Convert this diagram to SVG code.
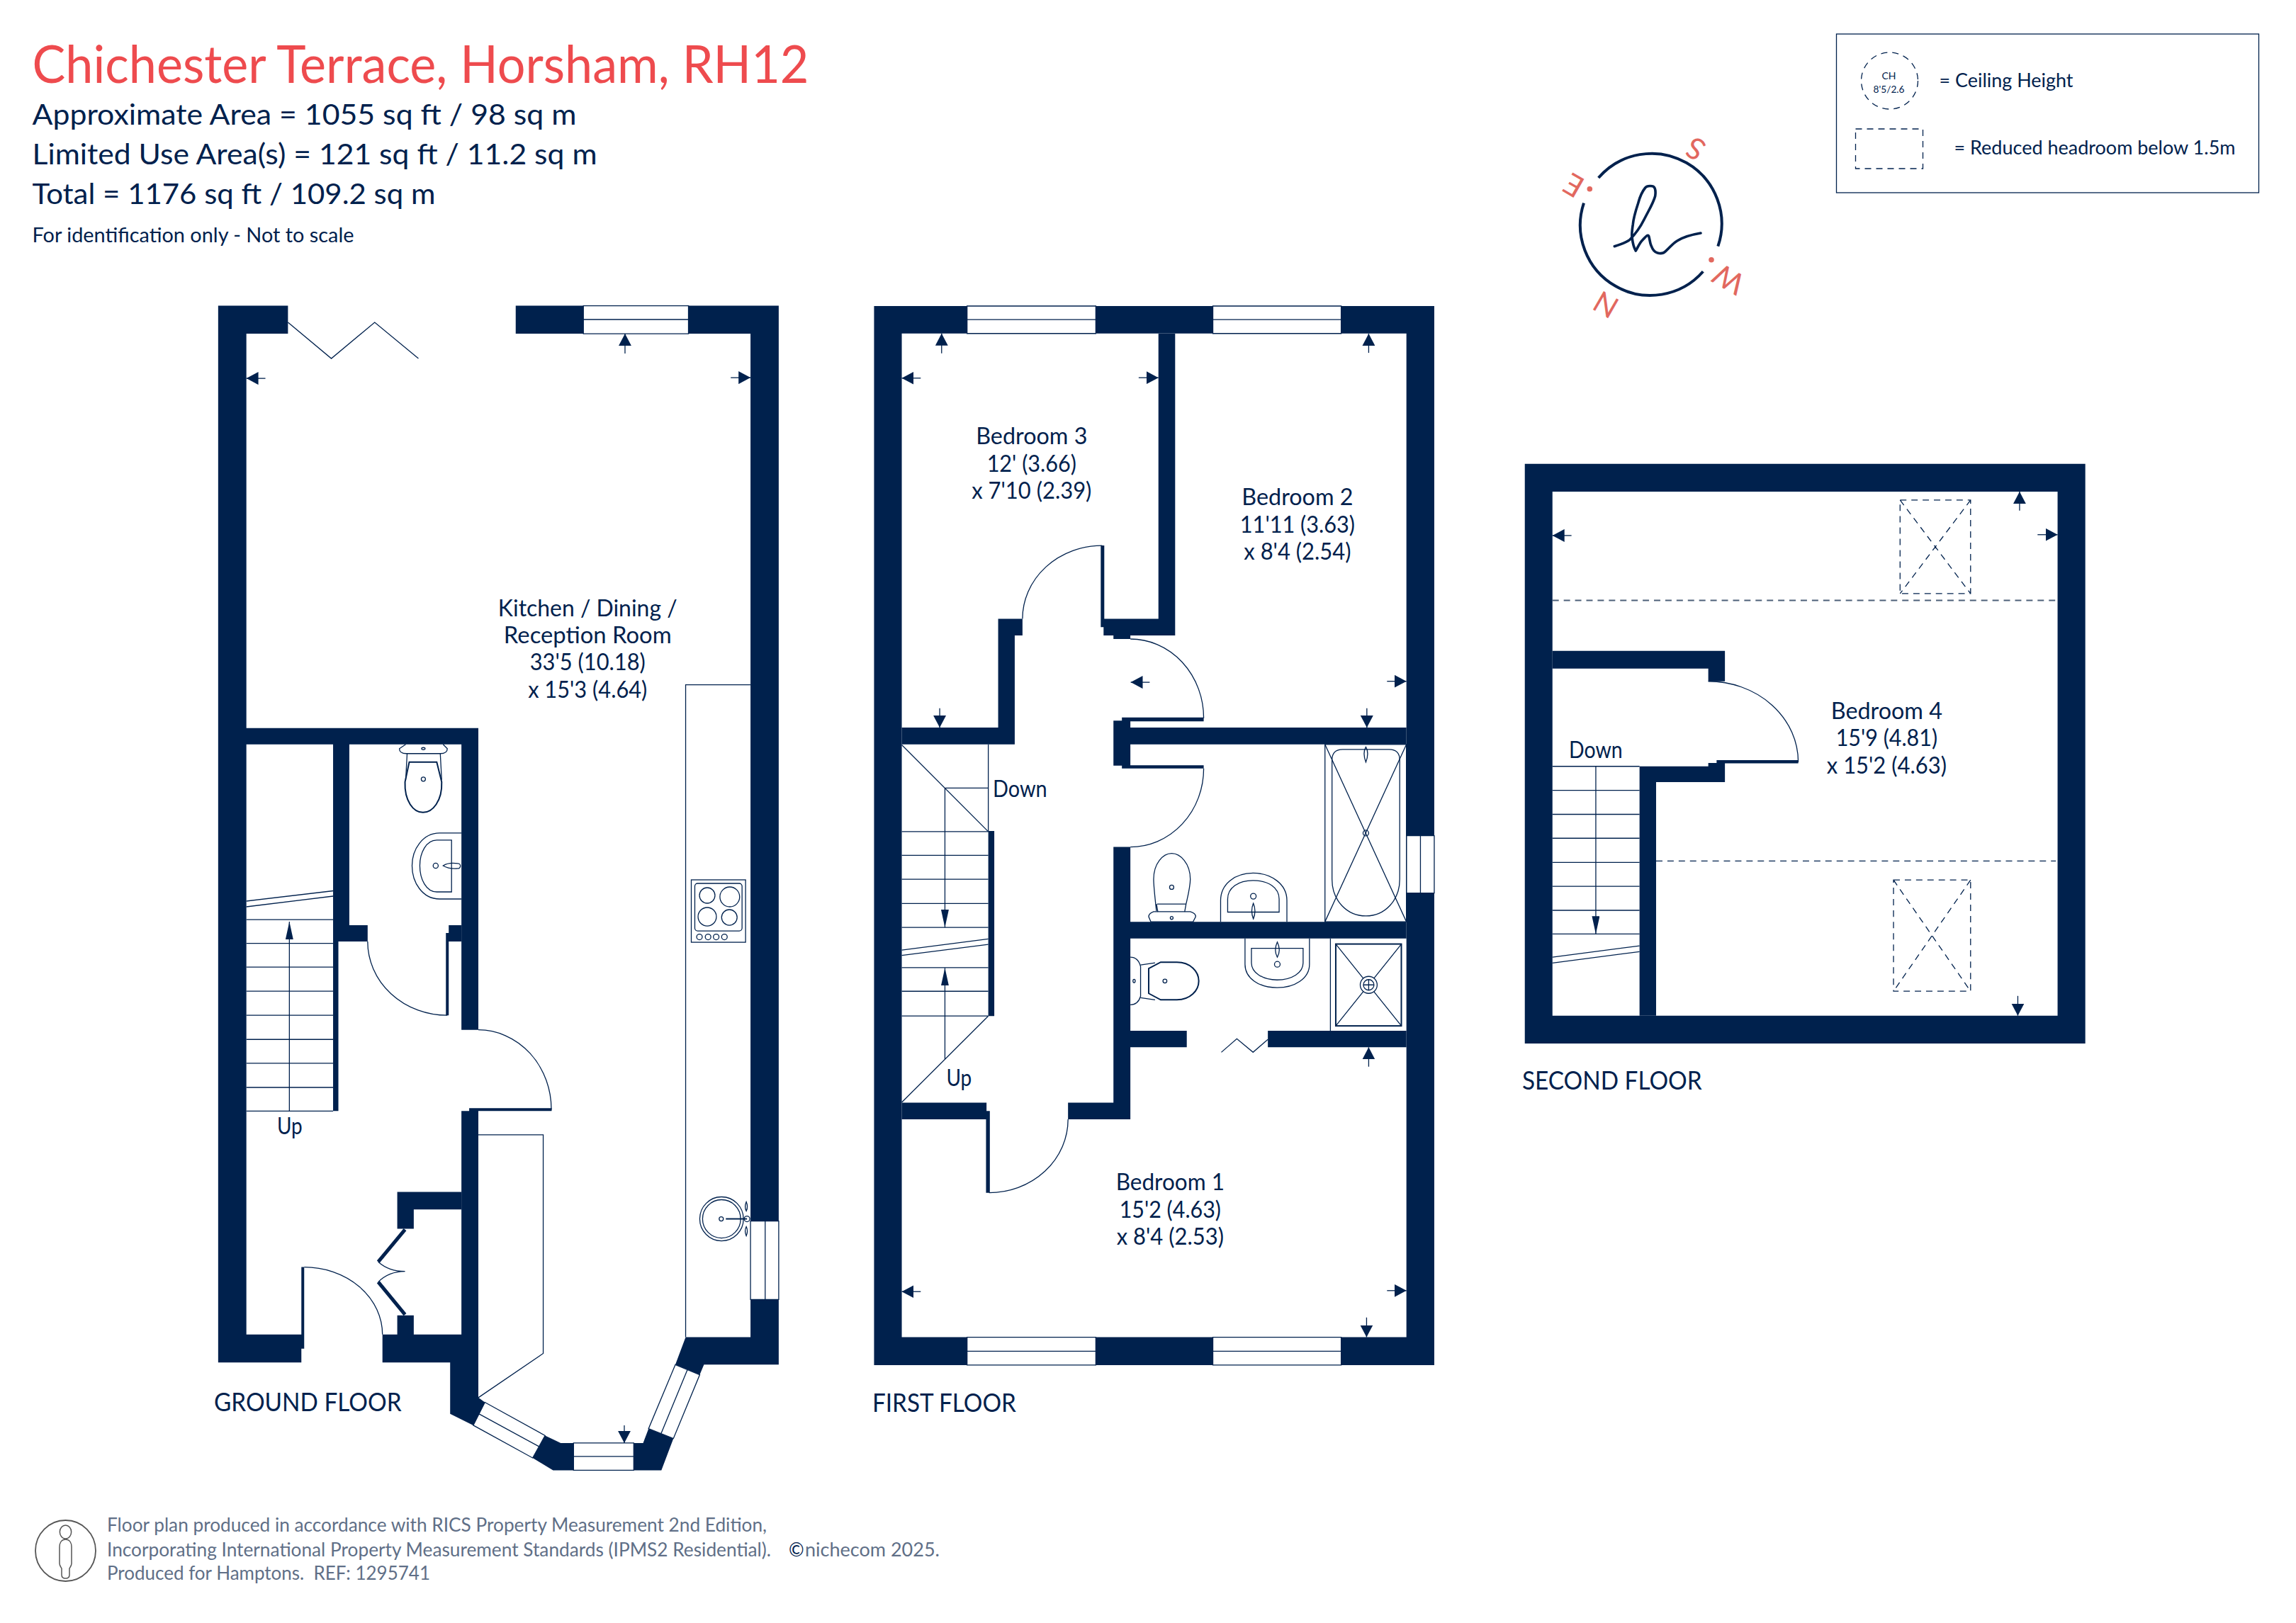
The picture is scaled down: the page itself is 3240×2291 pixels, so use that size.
<svg xmlns="http://www.w3.org/2000/svg" width="3240" height="2291" viewBox="0 0 3240 2291">
<style>
text{font-family:"Lato","Noto Sans","Liberation Sans",sans-serif;fill:#00214d}
.wall{fill:#00214d;stroke:none}
.t{fill:none;stroke:#00214d;stroke-width:1.3}
.tb{fill:none;stroke:#00214d;stroke-width:2}
.win{fill:#fff;stroke:#00214d;stroke-width:1.3}
.dash{fill:none;stroke:#00214d;stroke-width:1.3;stroke-dasharray:9 7}
.dash2{fill:none;stroke:#4d6079;stroke-width:2;stroke-dasharray:9 7}
.dim{stroke:#00214d;stroke-width:1.3;fill:none;marker-end:url(#head)}
.run{stroke:#00214d;stroke-width:1.3;fill:none;marker-end:url(#runhead)}
.room{font-size:33px;text-anchor:middle}
.floor{font-size:36px}
.foot{font-size:26px;fill:#5f6f87}
.cmp{font-size:42px;fill:#e2685f;text-anchor:middle}
</style>
<defs>
<marker id="head" markerUnits="userSpaceOnUse" markerWidth="18" markerHeight="18" refX="17" refY="9" orient="auto"><path d="M0 0L17 9L0 18Z" fill="#00214d"/></marker>
<marker id="runhead" markerUnits="userSpaceOnUse" markerWidth="26" markerHeight="12" refX="25" refY="5.5" orient="auto"><path d="M0 0L25 5.5L0 11Z" fill="#00214d"/></marker>
</defs>
<rect width="3240" height="2291" fill="#fff"/>

<g id="header">
<text x="45.5" y="116.5" font-size="74" style="fill:#ee4b4e" textLength="1096" lengthAdjust="spacingAndGlyphs">Chichester Terrace, Horsham, RH12</text>
<text x="45.5" y="176" font-size="41" textLength="768" lengthAdjust="spacingAndGlyphs">Approximate Area = 1055 sq ft / 98 sq m</text>
<text x="45.5" y="232" font-size="41" textLength="797" lengthAdjust="spacingAndGlyphs">Limited Use Area(s) = 121 sq ft / 11.2 sq m</text>
<text x="45.5" y="287.5" font-size="41" textLength="569" lengthAdjust="spacingAndGlyphs">Total = 1176 sq ft / 109.2 sq m</text>
<text x="45.5" y="342" font-size="29" textLength="454" lengthAdjust="spacingAndGlyphs">For identification only - Not to scale</text>
</g>

<g id="legend" transform="translate(-15.5 0)">
<rect x="2607" y="48" width="596" height="224" class="t"/>
<circle cx="2682" cy="114" r="40" class="dash"/>
<text x="2681" y="112" font-size="14" text-anchor="middle">CH</text>
<text x="2681" y="131" font-size="14" text-anchor="middle" textLength="44" lengthAdjust="spacingAndGlyphs">8'5/2.6</text>
<text x="2752" y="123" font-size="27" textLength="189" lengthAdjust="spacingAndGlyphs">= Ceiling Height</text>
<rect x="2634" y="182" width="95" height="56" class="dash"/>
<text x="2773" y="218" font-size="27" textLength="397" lengthAdjust="spacingAndGlyphs">= Reduced headroom below 1.5m</text>
</g>

<g id="compass">
<path d="M2255.7 251A99 99 0 0 1 2424.3 347.7M2403.3 383.3A99 99 0 0 1 2235 286.7" fill="none" stroke="#00214d" stroke-width="4"/>
<path d="M2278.3 347.7C2290 344 2296 342 2300 338.3C2308 330 2314 322 2320 310C2327 296 2333 287 2335.7 276.7C2337 268 2335 263 2331.7 262.7C2327 262 2324 262 2321.7 265C2316 272 2314 278 2311.7 286.7C2308 298 2305 308 2304.3 316.7C2303 325 2302 332 2303.3 336.7C2304 343 2306 350 2308.3 354C2312 348 2314 342 2318.3 338.3C2322 335 2325 330 2326.7 333.3C2328 337 2328 342 2330 346.7C2332 352 2335 356 2338.3 356.7C2342 358 2347 358 2350 355C2356 350 2360 344 2366.7 340C2376 334 2388 331 2400 329" fill="none" stroke="#00214d" stroke-width="3.6" stroke-linecap="round" stroke-linejoin="round"/>
<circle cx="2243.3" cy="266.7" r="3.8" fill="#e2685f"/>
<circle cx="2415" cy="366.7" r="3.8" fill="#e2685f"/>
<text class="cmp" transform="translate(2392.7 210) rotate(210)" y="15">S</text>
<text class="cmp" transform="translate(2266 430) rotate(210)" y="15">N</text>
<text class="cmp" transform="translate(2439.3 394) rotate(210)" y="15">W</text>
<text class="cmp" transform="translate(2220.7 261.7) rotate(210)" y="15">E</text>
</g>

<g id="ground-floor" transform="matrix(.995 0 0 1.0012 1.4 -.52)">
<path class="wall" d="M308 431.6H407V471H348V1027H677V1452.5H653V1050H494V1305H520V1328H478.5V1567H471V1050H348V1882H426V1787H430V1902H426V1921.4H308Z"/>
<path class="wall" d="M653 1305H635V1316H631V1432H635V1328H653Z"/>
<path class="wall" d="M653 1567H664V1563H781V1567H677V1971L686.3 1977.6L669.8 2010L637 1994V1921.4H541V1882H562V1855H585.4V1882H653Z"/>
<path class="wall" d="M562 1681H653V1705.6H585.4V1733H562Z"/>
<path class="wall" d="M771.7 2024.5L793.8 2035H812V2073.5H783L754 2056Z"/>
<path class="wall" d="M897.4 2035H910.7L918.4 2014.8L953.7 2028.6L936.6 2073.5H897.4Z"/>
<path class="wall" d="M730 431.6H826V471H730Z"/>
<path class="wall" d="M975 431.6H1103V1722H1063V471H975Z"/>
<path class="wall" d="M1063 1832.6H1103V1924.5H997L991 1938.8L956.4 1924.5L971 1885.7H1063Z"/>
<path class="win" d="M826 431.6H975V471H826ZM826 451H975"/>
<path class="win" d="M1063 1722H1103V1832.6H1063ZM1083.8 1722V1832.6"/>
<path class="win" d="M686.3 1977.6L771.7 2024.5L754 2056L669.8 2010ZM678 1994L763 2040"/>
<path class="win" d="M812 2035H897.4V2073.5H812ZM812 2054H897.4"/>
<path class="win" d="M918.4 2014.8L953.7 2028.6L991 1938.8L956.4 1924.5ZM936 2022L973.5 1931.6"/>
<path class="t" d="M407 455L468.5 506L530 455L592 506"/>
<path class="t" d="M971 1885.7V966H1063"/>
<path class="t" d="M677 1600.5H769V1908.7L677 1971"/>
<path class="t" d="M348 1271L471 1256.5M348 1279L471 1264"/>
<path class="t" d="M348 1297H471M348 1330.6H471M348 1364H471M348 1398H471M348 1432H471M348 1466H471M348 1499.5H471M348 1533.7H471M348 1567H471"/>
<path class="run" d="M409 1567V1300"/>
<path class="t" d="M520 1328A113 104 0 0 0 633 1432"/>
<path class="t" d="M677 1452.5A104 112 0 0 1 780.5 1565"/>
<path class="t" d="M430 1787A111 95 0 0 1 541 1882"/>
<path d="M573 1734L535 1779.6M535 1808L573 1854" stroke="#00214d" stroke-width="5" fill="none"/>
<path class="t" d="M535 1779.6Q550 1793 573 1793Q550 1793 535 1808"/>
<g id="ground-wc">
<path class="t" d="M574 1050L565 1056Q565 1063 575 1063H623Q633 1063 633 1056L627 1050"/>
<path class="t" d="M576 1063L574 1100M623 1063L625 1100"/>
<path class="tb" d="M579 1075H618L625 1103C626 1130 612 1146 598.5 1146C585 1146 572 1130 573 1103Z"/>
<circle cx="599" cy="1099" r="3" class="t"/>
<ellipse cx="599" cy="1056" rx="2.5" ry="1.5" class="t"/>
<path class="t" d="M653 1175H622C598 1175 583 1198 583 1221C583 1245 598 1268 622 1268H653"/>
<path class="t" d="M639 1185H618C603 1185 594 1203 594 1221C594 1240 603 1258 618 1258H639Z"/>
<circle cx="616.5" cy="1221" r="3.6" class="t"/>
<path class="t" d="M627 1221Q635 1216 648 1218A3.5 3.5 0 0 1 648 1225Q635 1226 627 1221Z"/>
</g>
<g id="hob">
<rect x="979" y="1241" width="77" height="88" class="t"/>
<rect x="984" y="1246" width="67" height="67" rx="4" class="t"/>
<circle cx="1001.6" cy="1263" r="11" class="t"/><circle cx="1033.6" cy="1265" r="14" class="t"/>
<circle cx="1001.6" cy="1293" r="13" class="t"/><circle cx="1033" cy="1294" r="11" class="t"/>
<circle cx="990.6" cy="1321.5" r="4" class="t"/><circle cx="1002.8" cy="1321.5" r="4" class="t"/><circle cx="1014.3" cy="1321.5" r="4" class="t"/><circle cx="1026" cy="1321.5" r="4" class="t"/>
</g>
<g id="sink">
<circle cx="1022" cy="1719" r="31" class="t"/><circle cx="1022" cy="1719" r="27" class="t"/>
<circle cx="1021.5" cy="1719" r="3" class="t"/>
<path class="tb" d="M1028 1719H1058"/>
<circle cx="1058" cy="1719" r="4" class="t"/>
<path class="t" d="M1057 1695Q1060 1702 1057 1708Q1054 1702 1057 1695ZM1057 1730Q1060 1736 1057 1743Q1054 1736 1057 1730Z"/>
</g>
<text x="409.5" y="1599.5" class="room" textLength="36" lengthAdjust="spacingAndGlyphs">Up</text>
<text x="832" y="869" class="room" textLength="254" lengthAdjust="spacingAndGlyphs">Kitchen / Dining /</text>
<text x="832" y="907.5" class="room" textLength="238" lengthAdjust="spacingAndGlyphs">Reception Room</text>
<text x="832" y="945.5" class="room" textLength="164" lengthAdjust="spacingAndGlyphs">33'5 (10.18)</text>
<text x="832" y="984" class="room" textLength="169" lengthAdjust="spacingAndGlyphs">x 15'3 (4.64)</text>
<text x="302" y="1990" class="floor" textLength="266" lengthAdjust="spacingAndGlyphs">GROUND FLOOR</text>
</g>

<g id="first-floor" transform="matrix(.995 0 0 1.0013 6.1 -.56)">
<path class="wall" d="M1233.5 432H2028V1925H1233.5ZM1272.8 470.7V1885.7H1988.5V470.7Z" fill-rule="evenodd"/>
<path class="wall" d="M1636.8 471H1660.5V896.3H1597V901.4H1573V896.3H1559V884.6H1555V769.6H1560V873H1636.8Z"/>
<path class="wall" d="M1272.8 1026.3H1409.5V873H1444V896.3H1433V1050H1272.8Z"/>
<path class="wall" d="M1573 1016.6H1585V1012H1701V1017.5H1597V1026.3H1988.5V1050H1597V1079.3H1701V1084H1585V1080H1573Z"/>
<path class="wall" d="M1573 1194.6H1597V1300H1988.5V1323.6H1597V1453.6H1677V1477H1597V1578.6H1508.6V1555H1573Z"/>
<path class="wall" d="M1792 1453.6H1988.5V1477H1792Z"/>
<path class="wall" d="M1272.8 1555H1393V1566.8H1397.7V1682H1392.3V1578.6H1272.8Z"/>
<path class="wall" d="M1395.5 1172H1404V1433H1395.5Z"/>
<path class="win" d="M1365.4 432H1548V470.7H1365.4ZM1365.4 451H1548"/>
<path class="win" d="M1714 432H1896V470.7H1714ZM1714 451H1896"/>
<path class="win" d="M1365.4 1885.7H1548V1925H1365.4ZM1365.4 1905.4H1548"/>
<path class="win" d="M1714 1885.7H1896V1925H1714ZM1714 1905.4H1896"/>
<path class="win" d="M1988.5 1178.6H2028V1259.6H1988.5ZM2008.4 1178.6V1259.6"/>
<path class="t" d="M1557 769.6A113 103.4 0 0 0 1444 873"/>
<path class="t" d="M1597 901.4A104 111.6 0 0 1 1701 1013"/>
<path class="t" d="M1701 1084A104 110.6 0 0 1 1597 1194.6"/>
<path class="t" d="M1508.6 1578.6A112 103.4 0 0 1 1396.6 1682"/>
<path class="t" d="M1726 1484L1748 1465L1771 1484L1792 1466"/>
<g id="first-stairs">
<path class="t" d="M1395.5 1050V1172.9M1272.8 1050.7L1395.5 1172.9M1334.7 1111.4H1395.5"/>
<path class="t" d="M1272.8 1172.9H1395.5M1272.8 1206.4H1395.5M1272.8 1240H1395.5M1272.8 1274.3H1395.5M1272.8 1307.9H1395.5M1272.8 1364.6H1395.5M1272.8 1398H1395.5M1272.8 1432.9H1395.5"/>
<path class="t" d="M1272.8 1340L1395.5 1324.3M1272.8 1347.5L1395.5 1332"/>
<path class="t" d="M1272.8 1554.6L1395.5 1432.9"/>
<path class="run" d="M1334 1111.4V1308"/>
<path class="run" d="M1334 1493.6V1365"/>
</g>
<g id="bath-fittings">
<path class="t" d="M1634 1285Q1630 1250 1630 1240C1630 1218 1643 1203.6 1655.6 1203.6C1668 1203.6 1682 1218 1682 1240Q1682 1250 1676 1275H1635M1634 1275L1636 1286M1676 1275L1674 1286"/>
<path class="t" d="M1630 1285.7H1682Q1690 1288 1689.6 1293L1686 1300H1626L1623 1293Q1623 1288 1630 1285.7Z"/>
<circle cx="1655.6" cy="1251.4" r="3" class="t"/><circle cx="1655.6" cy="1294.6" r="2" class="t"/>
<path class="t" d="M1725 1300V1270C1725 1247 1745 1231.4 1771 1231.4C1797 1231.4 1819 1247 1819 1270V1300"/>
<path class="t" d="M1735 1286.4V1268C1735 1252 1750 1241.8 1771 1241.8C1793 1241.8 1808 1252 1808 1268V1286.4Z"/>
<circle cx="1771.4" cy="1264" r="4" class="t"/>
<path class="t" d="M1771.4 1274Q1776 1285 1771.4 1296Q1767 1285 1771.4 1274Z"/>
<rect x="1873" y="1050" width="115.5" height="250" class="t"/>
<path class="t" d="M1883 1240V1072Q1883 1057 1898 1057H1964Q1979 1057 1979 1072V1240C1979 1270 1958 1291.8 1931 1291.8C1904 1291.8 1883 1270 1883 1240Z"/>
<path class="t" d="M1873 1050L1988.5 1300M1988.5 1050L1873 1300"/>
<circle cx="1931" cy="1175" r="4" class="t"/>
<path class="t" d="M1931 1053.6Q1936 1062 1931 1075Q1926 1062 1931 1053.6Z"/>
</g>
<g id="ensuite-fittings">
<path class="t" d="M1597 1350Q1608 1350 1611.5 1363V1405Q1608 1417 1597 1417"/>
<path class="t" d="M1611.5 1361L1632 1358M1611.5 1407L1632 1410"/>
<path class="tb" d="M1623 1366L1640 1357H1663C1682 1357 1694 1370 1694 1383.5C1694 1397 1682 1410 1663 1410H1640L1623 1401Z"/>
<circle cx="1646" cy="1383.6" r="2.8" class="t"/><ellipse cx="1602.3" cy="1383.6" rx="1.6" ry="2.4" class="t"/>
<path class="t" d="M1759.6 1323.6V1360C1759.6 1380 1780 1392.9 1805 1392.9C1830 1392.9 1851 1380 1851 1360V1323.6"/>
<path class="t" d="M1768.7 1337.5V1358C1768.7 1372 1785 1382 1805 1382C1826 1382 1842 1372 1842 1358V1337.5Z"/>
<circle cx="1805.4" cy="1360" r="4" class="t"/>
<path class="t" d="M1805.4 1328.6Q1811 1340 1805.4 1350Q1800 1340 1805.4 1328.6Z"/>
<path class="t" d="M1880.7 1323.6V1453.6"/>
<rect x="1888.3" y="1331.4" width="93" height="115.4" class="tb"/>
<path class="t" d="M1888.3 1331.4L1981.4 1446.8M1981.4 1331.4L1888.3 1446.8"/>
<circle cx="1935" cy="1389" r="12" fill="#fff" stroke="#00214d" stroke-width="1.3"/>
<circle cx="1935" cy="1389" r="7.5" class="t"/>
<path class="t" d="M1927.5 1389H1942.5M1935 1381.5V1396.5"/>
</g>
<text x="1457" y="626.8" class="room" textLength="158" lengthAdjust="spacingAndGlyphs">Bedroom 3</text>
<text x="1457" y="666" class="room" textLength="127" lengthAdjust="spacingAndGlyphs">12' (3.66)</text>
<text x="1457" y="704" class="room" textLength="170" lengthAdjust="spacingAndGlyphs">x 7'10 (2.39)</text>
<text x="1834" y="713" class="room" textLength="158" lengthAdjust="spacingAndGlyphs">Bedroom 2</text>
<text x="1834" y="751.7" class="room" textLength="163" lengthAdjust="spacingAndGlyphs">11'11 (3.63)</text>
<text x="1834" y="789.8" class="room" textLength="152" lengthAdjust="spacingAndGlyphs">x 8'4 (2.54)</text>
<text x="1653.5" y="1678.6" class="room" textLength="154" lengthAdjust="spacingAndGlyphs">Bedroom 1</text>
<text x="1653.5" y="1717.5" class="room" textLength="144" lengthAdjust="spacingAndGlyphs">15'2 (4.63)</text>
<text x="1653.5" y="1755.7" class="room" textLength="152" lengthAdjust="spacingAndGlyphs">x 8'4 (2.53)</text>
<text x="1402" y="1124" style="font-size:32px" textLength="77" lengthAdjust="spacingAndGlyphs">Down</text>
<text x="1336" y="1531.5" style="font-size:33px" textLength="36" lengthAdjust="spacingAndGlyphs">Up</text>
<text x="1231" y="1991" class="floor" textLength="204" lengthAdjust="spacingAndGlyphs">FIRST FLOOR</text>
</g>

<g id="second-floor" transform="matrix(.995 0 0 1.0024 10.7 -1.57)">
<path class="wall" d="M2151.8 654.8H2946.7V1471H2151.8ZM2191 694V1431.8H2907.4V694Z" fill-rule="evenodd"/>
<path class="wall" d="M2191 918H2435.6V961H2412V943H2191Z"/>
<path class="wall" d="M2314.5 1431.8V1080.7H2412V1076H2423.8V1072H2539.6V1076.5H2435.6V1103H2338V1431.8Z"/>
<path class="t" d="M2412 961A127.6 113.8 0 0 1 2539.6 1074.8"/>
<path class="t" d="M2191 1080.7H2314.5M2191 1114.5H2314.5M2191 1148.3H2314.5M2191 1182H2314.5M2191 1216H2314.5M2191 1249.7H2314.5M2191 1283.5H2314.5M2191 1316.8H2314.5"/>
<path class="t" d="M2191 1349.4L2314.5 1333.4M2191 1357.7L2314.5 1341.7"/>
<path class="run" d="M2252.5 1080.7V1316.8"/>
<path class="dash2" d="M2191 847H2907"/>
<path class="dash" d="M2338 1214H2905"/>
<path class="dash" d="M2684 705.8H2784V837.5H2684ZM2684 705.8L2784 837.5M2784 705.8L2684 837.5"/>
<path class="dash" d="M2674.7 1240.8H2784V1397.4H2674.7ZM2674.7 1240.8L2784 1397.4M2784 1240.8L2674.7 1397.4"/>
<text x="2665" y="1013.7" class="room" textLength="158" lengthAdjust="spacingAndGlyphs">Bedroom 4</text>
<text x="2665" y="1052" class="room" textLength="144" lengthAdjust="spacingAndGlyphs">15'9 (4.81)</text>
<text x="2665" y="1090.8" class="room" textLength="170" lengthAdjust="spacingAndGlyphs">x 15'2 (4.63)</text>
<text x="2214.4" y="1069" style="font-size:32px" textLength="76" lengthAdjust="spacingAndGlyphs">Down</text>
<text x="2148" y="1536" class="floor" textLength="255" lengthAdjust="spacingAndGlyphs">SECOND FLOOR</text>
</g>

<g id="connectors">
<g transform="matrix(.995 0 0 1.0012 1.4 -.52)">
<path class="dim" d="M885 499V471"/><path class="dim" d="M375 534H348"/><path class="dim" d="M1035 533H1063"/><path class="dim" d="M884 2010V2035"/>
</g>
<g transform="matrix(.995 0 0 1.0013 6.1 -.56)">
<path class="dim" d="M1329.3 498.7V470.7"/><path class="dim" d="M1299.7 533.6H1272.8"/><path class="dim" d="M1608.8 533H1636.8"/><path class="dim" d="M1326.6 999V1026.3"/>
<path class="dim" d="M1935 498V471"/><path class="dim" d="M1624.4 962.4H1597.5"/><path class="dim" d="M1961 961H1988.5"/><path class="dim" d="M1932.4 999V1026.3"/>
<path class="dim" d="M1935 1504.3V1477"/><path class="dim" d="M1299.7 1821.4H1272.8"/><path class="dim" d="M1961 1820H1988.5"/><path class="dim" d="M1932 1857.9V1885.7"/>
</g>
<g transform="matrix(.995 0 0 1.0024 10.7 -1.57)">
<path class="dim" d="M2853.5 720.7V694"/><path class="dim" d="M2218 755.7H2191"/><path class="dim" d="M2879 754.5H2907.4"/><path class="dim" d="M2851 1404V1431.8"/>
</g>
</g>

<g id="footer">
<ellipse cx="92.5" cy="2189" rx="42.5" ry="43" fill="none" stroke="#555" stroke-width="1.8"/>
<path d="M92.5 2153a6 7 0 0 1 0 19a6 7 0 0 1 0-19ZM92.5 2173C86 2173 84 2179 84 2184V2207C84 2210 86 2212 87 2214V2223Q87 2228 92.5 2228Q98 2228 98 2223V2214C99 2212 101 2210 101 2207V2184C101 2179 99 2173 92.5 2173Z" fill="none" stroke="#555" stroke-width="1.5"/>
<text x="151" y="2162" class="foot" textLength="931" lengthAdjust="spacingAndGlyphs">Floor plan produced in accordance with RICS Property Measurement 2nd Edition,</text>
<text x="151" y="2196.5" class="foot" textLength="937" lengthAdjust="spacingAndGlyphs">Incorporating International Property Measurement Standards (IPMS2 Residential).</text>
<text x="151" y="2230" class="foot" textLength="456" lengthAdjust="spacingAndGlyphs" xml:space="preserve">Produced for Hamptons.  REF: 1295741</text>
<text x="1113" y="2196.5" style="font-size:26px">©</text>
<text x="1136" y="2196.5" class="foot" textLength="190" lengthAdjust="spacingAndGlyphs">nichecom 2025.</text>
</g>
</svg>
